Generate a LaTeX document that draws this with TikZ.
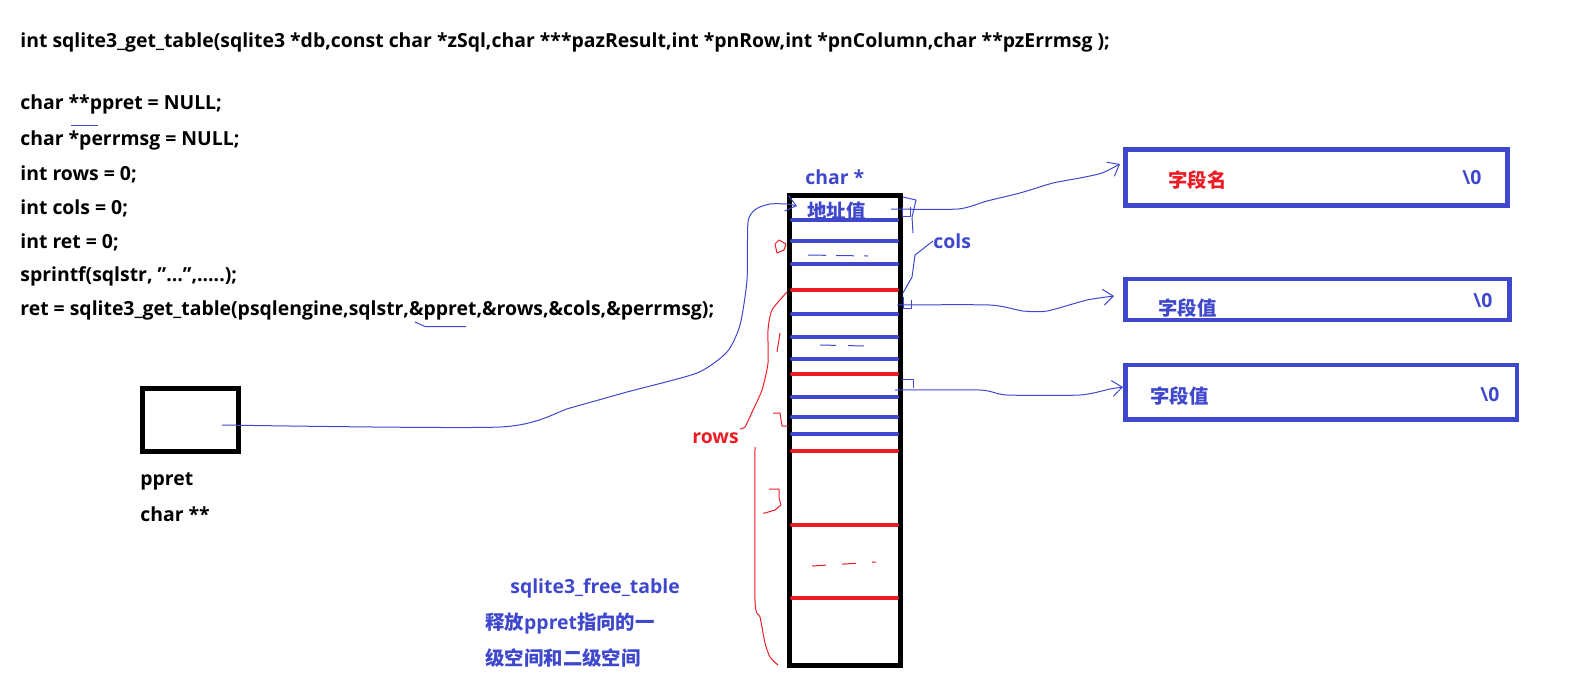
\documentclass[tikz,border=0pt]{standalone}
\usepackage{fontspec}
\setmainfont{Open Sans}
\newfontfamily\cjk{Noto Sans CJK SC}
\usetikzlibrary{arrows.meta,positioning}
\definecolor{pblue}{HTML}{3F48CC}
\definecolor{pred}{HTML}{ED1C24}
\newcommand\codefont{\fontsize{9.7}{11}\selectfont\bfseries}

\begin{document}
\begin{tikzpicture}[x=0.5pt,y=-0.5pt,
  code/.style={anchor=west,inner sep=0pt,font=\codefont},
  note/.style={anchor=west,inner sep=0pt,font=\codefont,color=pblue},
  hand/.style={line width=0.5pt,line join=round},
  ptr/.style={hand,draw=pblue,-{Straight Barb[length=5pt,width=8pt,line width=0.5pt]}},
  cellrule/.style={line width=2pt,line cap=round},
  strbox/.style={draw=pblue,line width=2.25pt,inner sep=0pt}]
\useasboundingbox (0,0) rectangle (1578,692);

% function prototype and calling code
\node[code] (proto) at (20,42.2) {int sqlite3\_get\_table(sqlite3 *db,const char *zSql,char ***pazResult,int *pnRow,int *pnColumn,char **pzErrmsg );};
\foreach \y/\t [count=\i] in {104.6/{char **ppret = NULL;},140.8/{char *perrmsg = NULL;},174/{int rows = 0;},208.2/{int cols = 0;},242.4/{int ret = 0;}}
  \node[code] (decl\i) at (20,\y) {\t};
\node[code] (callfmt) at (20,276.6) {sprintf(sqlstr, "\ldots",.....);};
\node[code] (call) at (20,310.8) {ret = sqlite3\_get\_table(psqlengine,sqlstr,\&ppret,\&rows,\&cols,\&perrmsg);};
\draw[hand,pblue] (71,125) -- (98,125);
\draw[hand,pblue] (415,322) -- (425,326.5) -- (466,326.5);

% the pointer variable
\node[draw,line width=2.5pt,minimum width=47.75pt,minimum height=31.5pt,inner sep=0pt] (pp) at (190.25,420) {};
\node[code] (ppname) at (140,481) {ppret};
\node[code] (pptype) at (140,514) {char **};
\coordinate (ppdot) at (222,425);

% array of char *
\node[draw,line width=2.5pt,minimum width=55.25pt,minimum height=235pt,inner sep=0pt] (col) at (844.75,430.5) {};
\node[note] (coltype) at (805,177) {char *};
\node[note] (addr) at (807,211) {\cjk 地址值};
\coordinate (addrin) at (797,206);
\foreach \c/\y in {pblue/220,pblue/241,pblue/264,pred/290,pblue/314,pblue/337,pblue/359,pred/374,pblue/397,pblue/417,pblue/434,pred/451,pred/525,pred/598}
  \draw[cellrule,\c] (792,\y) -- (897,\y);
\draw[hand,pblue,dash pattern=on 9pt off 5pt] (808,255) -- (868,256);
\draw[hand,pblue,dash pattern=on 8pt off 6pt] (820,345) -- (866,346);
\draw[hand,pred,dash pattern=on 7pt off 8pt] (812,566) -- (876,562);

% cols brace
\node[note] (cols) at (933,241) {cols};
\draw[hand,pblue] (903,197) -- (916,200) -- (912,217) -- (913,233);
\draw[hand,pblue] (cols.west) -- (915,255) -- (912,277) -- (903,293);

% rows brace and row numbers
\node[note,color=pred] (rows) at (692,438) {rows};
\draw[hand,pred] (775,244) -- (779,240) -- (786,244) -- (784,250) -- (777,253) -- cycle;
\draw[hand,pred] plot[smooth,tension=0.4] coordinates {(787,292) (772,310) (768,330) (768,363) (762,390) (753,410) (745,427) (740,429)};
\draw[hand,pred] (780,333) -- (777,352);
\draw[hand,pred] (773,413) -- (780,413) -- (782,426) -- (788,426);
\draw[hand,pred] plot[smooth,tension=0.4] coordinates {(755,447) (755,600) (760,617) (765,643) (770,657) (778,665)};
\draw[hand,pred] (769,489) -- (779,489) -- (779,498) -- (781,505) -- (775,510) -- (765,513) -- (763,513);

% strings
\node[strbox,minimum width=191pt,minimum height=28pt] (fname) at (1316.5,177.5) {};
\node[strbox,minimum width=192pt,minimum height=20.5pt] (fval1) at (1317.5,299.5) {};
\node[strbox,minimum width=195.75pt,minimum height=27.25pt] (fval2) at (1321.25,392.25) {};
\node[note,color=pred] (fnametxt) at (1168,180) {\cjk 字段名};
\node[note] (fnameend) at (1462,178) {\textbackslash 0};
\node[note] (fval1txt) at (1158,308) {\cjk 字段值};
\node[note] (fval1end) at (1473,301) {\textbackslash 0};
\node[note] (fval2txt) at (1150,396) {\cjk 字段值};
\node[note] (fval2end) at (1480,395) {\textbackslash 0};
\coordinate (fnamein) at (1120,164);
\coordinate (fval1in) at (1114,296);
\coordinate (fval2in) at (1123,387);

% pointers
\draw[ptr] plot[smooth,tension=0.4] coordinates {(ppdot) (500,427) (570,408) (627,392) (697,373) (727,352) (740,325) (747,280) (748,222) (756,209) (770,204) (787,204) (addrin)};
\draw[ptr] plot[smooth,tension=0.4] coordinates {(891,209) (958,209) (987,201) (1020,193) (1053,183) (1080,178) (1102,173) (fnamein)};
\draw[ptr] plot[smooth,tension=0.4] coordinates {(897,305) (990,305) (1023,311) (1047,311) (1087,300) (fval1in)};
\draw[ptr] plot[smooth,tension=0.4] coordinates {(895,390) (980,390) (1007,395) (1080,395) (1110,389) (fval2in)};
\draw[hand,pblue] (902,207) -- (902,216) -- (910,216) -- (910,207);
\draw[hand,pblue] (903,297) -- (903,308) -- (911,308) -- (911,300);
\draw[hand,pblue] (902,379) -- (913,379) -- (913,388);

% freeing note
\node[note] (freefn) at (510,588) {sqlite3\_free\_table};
\node[note] (free1) at (485,623) {\cjk 释放\rmfamily ppret\cjk 指向的一};
\node[note] (free2) at (485,658) {\cjk 级空间和二级空间};
\end{tikzpicture}
\end{document}
